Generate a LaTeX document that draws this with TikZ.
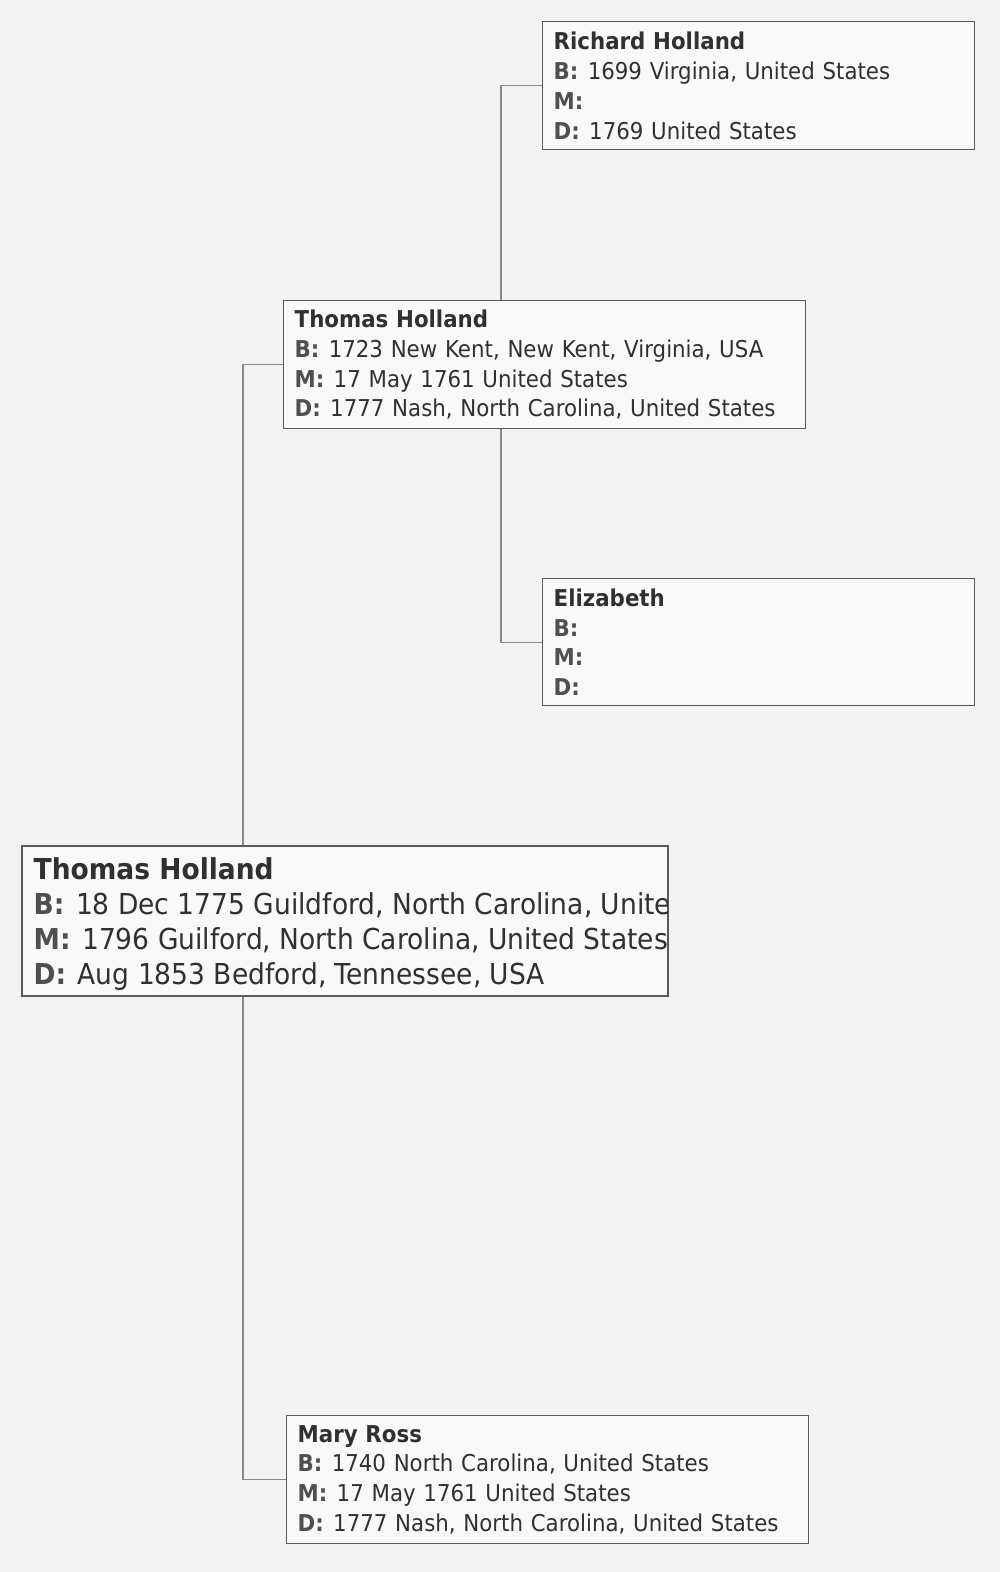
\documentclass[tikz,border=0pt]{standalone}
\usepackage{fontspec}
\setmainfont{DejaVu Sans}[FakeStretch=0.92]
\usetikzlibrary{backgrounds}
\definecolor{pagebg}{HTML}{F3F3F3}
\definecolor{boxbg}{HTML}{F9F9F9}
\definecolor{ink}{HTML}{303030}
\definecolor{rule}{HTML}{5A5A5A}
\definecolor{linkc}{HTML}{8A8A8A}
\newcommand{\lbl}[1]{\textbf{\color{ink!85}#1}\hspace{.4em}}
\newcommand{\bigln}[1]{\makebox[12.5cm][l]{#1}}

\begin{document}
\begin{tikzpicture}[x=0.02cm,y=-0.02cm,
    person/.style={draw=rule,fill=boxbg,line width=0.8pt,anchor=north west,align=left,
        inner xsep=0.22cm,inner ysep=0pt,text=ink,minimum height=2.56cm,
        font=\fontsize{13.2}{17}\selectfont},
    link/.style={draw=linkc,line width=0.6pt}]
    \useasboundingbox (0,0) rectangle (1000,1572);

    \node[person,text width=8.2cm] (richard) at (542,21)
        {\textbf{Richard Holland}\\\lbl{B:}1699 Virginia, United States\\\lbl{M:}\\\lbl{D:}1769 United States};
    \node[person,text width=10.0cm] (thomasf) at (283,300)
        {\textbf{Thomas Holland}\\\lbl{B:}1723 New Kent, New Kent, Virginia, USA\\\lbl{M:}17 May 1761 United States\\\lbl{D:}1777 Nash, North Carolina, United States};
    \node[person,text width=8.2cm,minimum height=2.54cm] (elizabeth) at (542,578)
        {\textbf{Elizabeth}\\\lbl{B:}\\\lbl{M:}\\\lbl{D:}};
    \node[person,text width=10.0cm] (mary) at (286,1415)
        {\textbf{Mary Ross}\\\lbl{B:}1740 North Carolina, United States\\\lbl{M:}17 May 1761 United States\\\lbl{D:}1777 Nash, North Carolina, United States};

    % 大框: 文字在右边被截断
    \draw[draw=rule,fill=boxbg,line width=0.8pt] (22,846) rectangle (668,996);
    \begin{scope}
        \clip (22,846) rectangle (667,996);
        \node[person,draw=none,fill=none,minimum height=3cm,yshift=-0.05cm,
              font=\fontsize{16.4}{20}\selectfont] (thomas) at (22,846)
            {\bigln{\textbf{Thomas Holland}}\\\bigln{\lbl{B:}18 Dec 1775 Guildford, North Carolina, United States}\\
             \bigln{\lbl{M:}1796 Guilford, North Carolina, United States}\\\bigln{\lbl{D:}Aug 1853 Bedford, Tennessee, USA}};
    \end{scope}

    \begin{scope}[on background layer]
        \fill[pagebg] (0,0) rectangle (1000,1572);
        \draw[link] (richard.west) -- ++(-41,0) |- (elizabeth.west);
        \draw[link] (thomasf.west) -- ++(-40,0) |- (mary.west);
    \end{scope}
\end{tikzpicture}
\end{document}
